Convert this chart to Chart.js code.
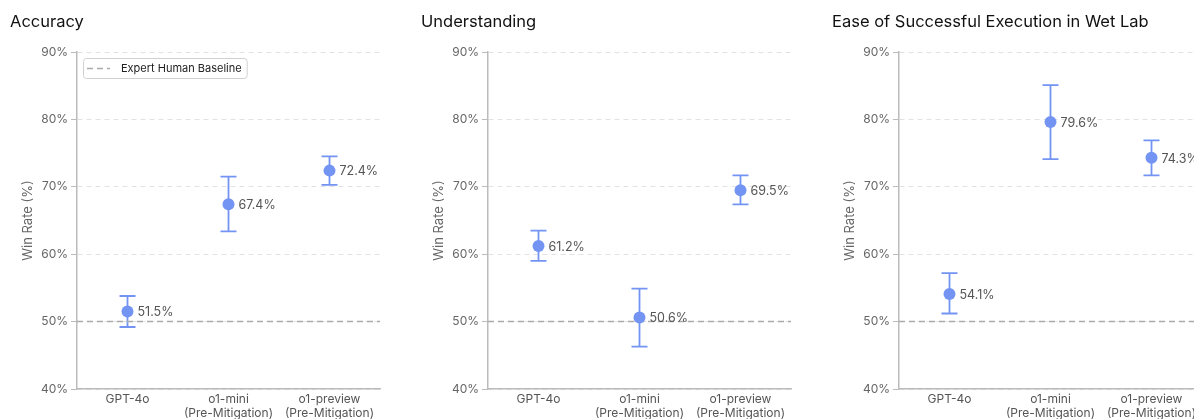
<!DOCTYPE html>
<html>
<head>
<meta charset="utf-8">
<title>Win rate vs expert baseline</title>
<script src="https://cdn.jsdelivr.net/npm/chart.js@4.4.1/dist/chart.umd.min.js"></script>
<style>
  html, body { margin: 0; padding: 0; background: #fff; overflow: hidden; }
  body { width: 1194px; height: 419px; position: relative; }
  .panel { position: absolute; top: 0; width: 411px; height: 419px; }
</style>
</head>
<body>
<div class="panel" style="left:0"><canvas id="accuracyChart" width="411" height="419"></canvas></div>
<div class="panel" style="left:411px"><canvas id="understandingChart" width="411" height="419"></canvas></div>
<div class="panel" style="left:822px"><canvas id="wetLabChart" width="411" height="419"></canvas></div>
<script>
// chart data
const categories = ['GPT-4o', ['o1-mini', '(Pre-Mitigation)'], ['o1-preview', '(Pre-Mitigation)']];
const yTicks = [40, 50, 60, 70, 80, 90];
const baselineValue = 50;

const accuracy = [51.5, 67.4, 72.4];
const accuracyLow = [49.2, 63.4, 70.3];
const accuracyHigh = [53.8, 71.5, 74.5];

const understanding = [61.2, 50.6, 69.5];
const understandingLow = [59.0, 46.3, 67.4];
const understandingHigh = [63.5, 54.9, 71.7];

const wetLab = [54.1, 79.6, 74.3];
const wetLabLow = [51.2, 74.1, 71.7];
const wetLabHigh = [57.2, 85.1, 76.9];

const pointColor = '#7494f4';
const fontFamily = 'Inter, "Liberation Sans", sans-serif';

// error bars, drawn under the points
const errorBars = {
    id: 'errorBars',
    beforeDatasetsDraw(chart, args, opts) {
        const ctx = chart.ctx;
        const y = chart.scales.y;
        const meta = chart.getDatasetMeta(0);
        ctx.save();
        ctx.strokeStyle = pointColor;
        ctx.lineWidth = 1.8;
        meta.data.forEach((pt, i) => {
            const top = y.getPixelForValue(opts.high[i]);
            const bottom = y.getPixelForValue(opts.low[i]);
            ctx.beginPath();
            ctx.moveTo(pt.x, top);
            ctx.lineTo(pt.x, bottom);
            ctx.moveTo(pt.x - 8, top);
            ctx.lineTo(pt.x + 8, top);
            ctx.moveTo(pt.x - 8, bottom);
            ctx.lineTo(pt.x + 8, bottom);
            ctx.stroke();
        });
        ctx.restore();
    }
};

// value labels right of each point
const valueLabels = {
    id: 'valueLabels',
    afterDatasetsDraw(chart) {
        const ctx = chart.ctx;
        const meta = chart.getDatasetMeta(0);
        const values = chart.data.datasets[0].data;
        ctx.save();
        ctx.font = '12.5px ' + fontFamily;
        ctx.fillStyle = '#555';
        ctx.textAlign = 'left';
        ctx.textBaseline = 'middle';
        meta.data.forEach((pt, i) => {
            ctx.fillText(values[i].toFixed(1) + '%', pt.x + 10, pt.y + 1);
        });
        ctx.restore();
    }
};

// small framed legend in the top-left corner of the plot
const baselineLegend = {
    id: 'baselineLegend',
    afterDraw(chart, args, opts) {
        if (!opts.show) return;
        const ds = chart.data.datasets[1];
        const area = chart.chartArea;
        const ctx = chart.ctx;
        const x = area.left + 6, y = area.top + 6;
        ctx.save();
        ctx.font = '11px ' + fontFamily;
        const textW = ctx.measureText(ds.label).width;
        ctx.fillStyle = '#fff';
        ctx.strokeStyle = '#d0d0d0';
        ctx.lineWidth = 1;
        ctx.beginPath();
        ctx.roundRect(x + 0.5, y + 0.5, 38 + textW + 5, 20, 3);
        ctx.fill();
        ctx.stroke();
        ctx.strokeStyle = ds.borderColor;
        ctx.lineWidth = ds.borderWidth;
        ctx.setLineDash(ds.borderDash);
        ctx.beginPath();
        ctx.moveTo(x + 4, y + 10.5);
        ctx.lineTo(x + 27, y + 10.5);
        ctx.stroke();
        ctx.setLineDash([]);
        ctx.fillStyle = '#222';
        ctx.textBaseline = 'middle';
        ctx.fillText(ds.label, x + 38, y + 11);
        ctx.restore();
    }
};

function makeChart(canvasId, title, values, low, high, showLegend) {
    const ctx = document.getElementById(canvasId).getContext('2d');
    return new Chart(ctx, {
        data: {
            labels: categories,
            datasets: [{
                type: 'line',
                label: title,
                data: values,
                showLine: false,
                pointRadius: 6,
                pointHoverRadius: 6,
                pointBackgroundColor: pointColor,
                pointBorderWidth: 0,
                xAxisID: 'x',
                yAxisID: 'y'
            }, {
                type: 'line',
                label: 'Expert Human Baseline',
                data: [{ x: 0, y: baselineValue }, { x: 1, y: baselineValue }],
                borderColor: '#aaaaaa',
                borderWidth: 1.5,
                borderDash: [6, 4],
                pointRadius: 0,
                xAxisID: 'xBase',
                yAxisID: 'y'
            }]
        },
        options: {
            responsive: false,
            animation: false,
            layout: { padding: { left: 10, right: 31, top: 0, bottom: 0 } },
            scales: {
                x: {
                    type: 'category',
                    offset: true,
                    grid: { display: false, drawTicks: false },
                    border: { color: '#bbbbbb', width: 1.5 },
                    ticks: {
                        color: '#555',
                        font: { family: fontFamily, size: 12, lineHeight: 1.2 },
                        padding: 3,
                        maxRotation: 0,
                        autoSkip: false
                    },
                    afterFit(scale) { scale.height = 30; }
                },
                xBase: {
                    type: 'linear',
                    min: 0,
                    max: 1,
                    display: false
                },
                y: {
                    min: 40,
                    max: 90,
                    afterBuildTicks(scale) {
                        scale.ticks = yTicks.map(v => ({ value: v }));
                    },
                    afterFit(scale) { scale.width = 67; },
                    grid: {
                        color: '#e2e2e2',
                        lineWidth: 1,
                        tickLength: 6,
                        tickColor: '#bbbbbb',
                        tickWidth: 1
                    },
                    border: { color: '#bbbbbb', width: 1.5, dash: [5, 4] },
                    ticks: {
                        color: '#666',
                        font: { family: fontFamily, size: 12 },
                        padding: 3,
                        callback: v => v + '%'
                    },
                    title: {
                        display: true,
                        text: 'Win Rate (%)',
                        color: '#666',
                        font: { family: fontFamily, size: 13, lineHeight: 1.2 },
                        padding: { top: 10, bottom: 0 }
                    }
                }
            },
            plugins: {
                title: {
                    display: true,
                    text: title,
                    align: 'start',
                    color: '#111',
                    font: { family: fontFamily, size: 16.5, weight: 'normal', lineHeight: 1.2 },
                    padding: { top: 12.5, bottom: 19.7 }
                },
                legend: { display: false },
                tooltip: { enabled: false },
                errorBars: { low: low, high: high },
                baselineLegend: { show: showLegend }
            }
        },
        plugins: [errorBars, valueLabels, baselineLegend]
    });
}

window.onload = function() {
    makeChart('accuracyChart', 'Accuracy', accuracy, accuracyLow, accuracyHigh, true);
    makeChart('understandingChart', 'Understanding', understanding, understandingLow, understandingHigh, false);
    makeChart('wetLabChart', 'Ease of Successful Execution in Wet Lab', wetLab, wetLabLow, wetLabHigh, false);
};
</script>
</body>
</html>
